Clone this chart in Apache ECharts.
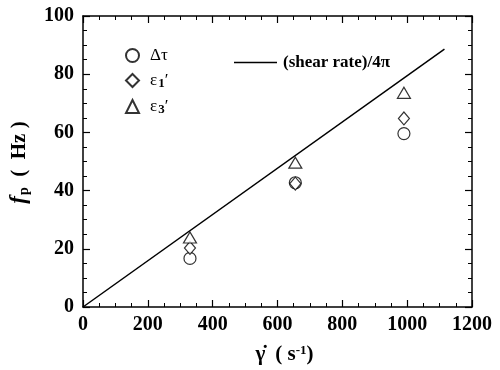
<!DOCTYPE html>
<html>
<head>
<meta charset="utf-8">
<script src="https://cdn.jsdelivr.net/npm/echarts@6/dist/echarts.min.js"></script>
<style>html,body{margin:0;padding:0;background:#fff}#c{width:500px;height:370px}</style>
</head>
<body>
<div id="c"></div>
<script>
// shear rate groups (s^-1)
const shearRates = [330, 655, 990];
// f_p values (Hz)
const dTau = [16.7, 42.7, 59.6];
const eps1 = [20.3, 42.4, 64.8];
const eps3 = [23.9, 49.6, 73.6];
// reference line (shear rate)/4π endpoints
const lineX = [0, 1115];
const lineY = [0, 88.6];
const xTicks = [0, 200, 400, 600, 800, 1000, 1200];
const yTicks = [0, 20, 40, 60, 80, 100];

const FONT = '"Liberation Serif", "Times New Roman", serif';
const pair = (xs, ys) => xs.map((x, i) => [x, ys[i]]);

function axisCommon() {
  return {
    type: 'value',
    axisLine: { show: true, onZero: false, lineStyle: { color: '#000', width: 1.5 } },
    axisTick: { show: true, inside: true, length: 7, lineStyle: { color: '#000', width: 1.2 } },
    minorTick: { show: true, splitNumber: 4, length: 4, lineStyle: { color: '#000', width: 1 } },
    splitLine: { show: false },
    minorSplitLine: { show: false }
  };
}
const labelStyle = { fontFamily: FONT, fontWeight: 'bold', fontSize: 20, color: '#000', formatter: v => String(v) };

const chart = echarts.init(document.getElementById('c'), null, { renderer: 'canvas' });
const mk = (name, data, symbol, size) => ({
  name, type: 'scatter', data, symbol, symbolSize: size,
  itemStyle: { color: '#fff', borderColor: '#000', borderWidth: 1.2 },
  z: 3
});

chart.setOption({
  animation: false,
  backgroundColor: '#fff',
  grid: { left: 83, right: 28, top: 16, bottom: 54 },
  legend: [{
    data: ['Δτ', 'ε1′', 'ε3′'],
    orient: 'vertical', left: 120, top: 42,
    itemWidth: 13, itemHeight: 13, itemGap: 8,
    formatter: function (n) {
      if (n === 'Δτ') return '{g|Δτ}';
      return '{g|ε}{sub|' + n.charAt(1) + '}{g|′}';
    },
    textStyle: {
      fontFamily: FONT, color: '#000', fontSize: 17, padding: [0, 0, 0, 6],
      rich: {
        g: { fontFamily: FONT, fontSize: 17, color: '#000' },
        sub: { fontFamily: FONT, fontSize: 13, fontWeight: 'bold', color: '#000', verticalAlign: 'bottom', padding: [6, 0, 0, 1] }
      }
    }
  }, {
    data: [{ name: '(shear rate)/4π', icon: 'rect' }],
    orient: 'horizontal', left: 229, top: 49,
    itemWidth: 43, itemHeight: 1.5,
    textStyle: { fontFamily: FONT, fontWeight: 'bold', fontSize: 17, color: '#000', padding: [0, 0, 0, 1] }
  }],
  xAxis: [Object.assign(axisCommon(), {
    min: 0, max: 1200, interval: 200, position: 'bottom',
    axisLabel: Object.assign({ margin: 8 }, labelStyle),
    name: '{g|γ̇}   {t|( s}{sup|-1}{t|)}',
    nameLocation: 'middle', nameGap: 37,
    nameTextStyle: {
      padding: [0, 0, 0, 14],
      rich: {
        g: { fontFamily: FONT, fontSize: 21, color: '#000', fontWeight: 'bold' },
        t: { fontFamily: FONT, fontSize: 21, color: '#000', fontWeight: 'bold' },
        sup: { fontFamily: FONT, fontSize: 13, color: '#000', fontWeight: 'bold', verticalAlign: 'top', padding: [0, 0, 8, 0] }
      }
    }
  }), Object.assign(axisCommon(), {
    min: 0, max: 1200, interval: 200, position: 'top',
    axisLabel: { show: false }
  })],
  yAxis: [Object.assign(axisCommon(), {
    min: 0, max: 100, interval: 20, position: 'left',
    axisLabel: Object.assign({ margin: 9 }, labelStyle),
    name: '{f|f}{sub|p}{t|  (  Hz )}',
    nameLocation: 'middle', nameGap: 52, nameRotate: 90,
    nameTextStyle: {
      padding: [0, 2, 0, 0],
      rich: {
        f: { fontFamily: FONT, fontSize: 23, fontStyle: 'italic', fontWeight: 'bold', color: '#000' },
        sub: { fontFamily: FONT, fontSize: 14, fontWeight: 'bold', color: '#000', verticalAlign: 'bottom', padding: [8, 0, 0, 1] },
        t: { fontFamily: FONT, fontSize: 21, fontWeight: 'bold', color: '#000' }
      }
    }
  }), Object.assign(axisCommon(), {
    min: 0, max: 100, interval: 20, position: 'right',
    axisLabel: { show: false }
  })],
  series: [
    {
      name: '(shear rate)/4π', type: 'line', data: pair(lineX, lineY),
      symbol: 'none', lineStyle: { color: '#000', width: 1.5 }, itemStyle: { color: '#000' }, z: 2
    },
    mk('Δτ', pair(shearRates, dTau), 'circle', 12),
    mk('ε1′', pair(shearRates, eps1), 'diamond', [11, 13]),
    mk('ε3′', pair(shearRates, eps3), 'triangle', [13, 11])
  ]
});
</script>
</body>
</html>
